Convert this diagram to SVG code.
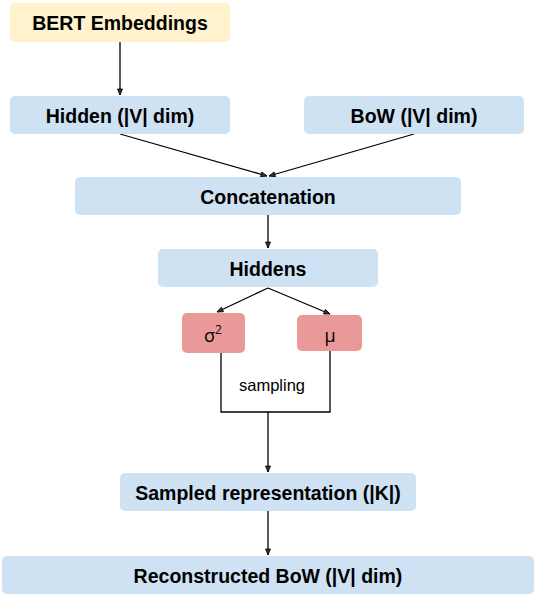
<svg xmlns="http://www.w3.org/2000/svg" width="536" height="594" viewBox="0 0 536 594">
<style>
.box{stroke:none}
.y{fill:#fff2cc}
.b{fill:#cfe2f3}
.r{fill:#ea9999}
.t{font-family:"Liberation Sans",Arial,sans-serif;font-weight:bold;font-size:19.5px;fill:#000;text-anchor:middle}
.s{font-family:"Liberation Sans",Arial,sans-serif;font-size:16.5px;fill:#000;text-anchor:middle}
.g{font-family:"Open Sans","Liberation Sans",sans-serif;font-size:18px;fill:#000;text-anchor:middle}
.c{fill:none;stroke:#000;stroke-width:1.3}
</style>
<defs>
<marker id="ah" markerWidth="8" markerHeight="8" refX="7" refY="4" orient="auto" markerUnits="userSpaceOnUse">
<path d="M1,1.5 L7,4 L1,6.5 Z" fill="#333" stroke="#000" stroke-width="0.8"/>
</marker>
</defs>
<rect width="536" height="594" fill="#fff"/>
<g id="connectors">
<line class="c" x1="120" y1="42" x2="120" y2="95" marker-end="url(#ah)"/>
<line class="c" x1="120" y1="134" x2="267" y2="176" marker-end="url(#ah)"/>
<line class="c" x1="414" y1="134" x2="269" y2="176" marker-end="url(#ah)"/>
<line class="c" x1="268" y1="215" x2="268" y2="248" marker-end="url(#ah)"/>
<line class="c" x1="268" y1="288" x2="217" y2="312" marker-end="url(#ah)"/>
<line class="c" x1="268" y1="288" x2="330" y2="314" marker-end="url(#ah)"/>
<polyline class="c" points="221,353 221,412 330,412 330,351"/>
<line class="c" x1="268" y1="412" x2="268" y2="472" marker-end="url(#ah)"/>
<line class="c" x1="268" y1="511" x2="268" y2="555" marker-end="url(#ah)"/>
<text class="s" x="272" y="391">sampling</text>
</g>
<g id="bert"><rect class="box y" x="10" y="3" width="220" height="39" rx="5"/><text class="t" x="120" y="29.5">BERT Embeddings</text></g>
<g id="hidden"><rect class="box b" x="10" y="96" width="220" height="38" rx="5"/><text class="t" x="120" y="122.5">Hidden (|V| dim)</text></g>
<g id="bow"><rect class="box b" x="304" y="96" width="220" height="38" rx="5"/><text class="t" x="414" y="122.5">BoW (|V| dim)</text></g>
<g id="concat"><rect class="box b" x="75" y="177" width="386" height="38" rx="5"/><text class="t" x="268" y="203.5">Concatenation</text></g>
<g id="hiddens"><rect class="box b" x="158" y="249" width="220" height="38" rx="5"/><text class="t" x="268" y="275.5">Hiddens</text></g>
<g id="sigma"><rect class="box r" x="182" y="313" width="63" height="40" rx="5"/><text class="g" x="213" y="342">σ<tspan font-size="12" dy="-8">2</tspan></text></g>
<g id="mu"><rect class="box r" x="297" y="315" width="65" height="36" rx="5"/><text class="g" x="330" y="342">μ</text></g>
<g id="sampled"><rect class="box b" x="120" y="473" width="296" height="38" rx="5"/><text class="t" x="268" y="499.5">Sampled representation (|K|)</text></g>
<g id="recon"><rect class="box b" x="2" y="556" width="532" height="38" rx="5"/><text class="t" x="268" y="582.5">Reconstructed BoW (|V| dim)</text></g>
</svg>
